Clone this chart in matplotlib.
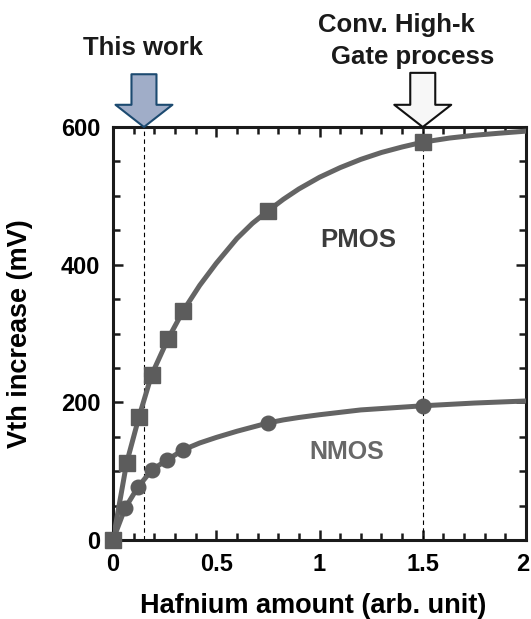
import matplotlib

matplotlib.use("Agg")
import matplotlib.pyplot as plt
import matplotlib.transforms as mtransforms
from matplotlib.ticker import MultipleLocator

plt.rcParams["font.family"] = ["Liberation Sans", "DejaVu Sans"]
plt.rcParams["font.weight"] = "bold"
plt.rcParams["axes.labelweight"] = "bold"

# measured points
pmos_x = [0.0, 0.066, 0.126, 0.187, 0.266, 0.34, 0.75, 1.5]
pmos_y = [0, 112, 179, 240, 292, 333, 478, 578]
nmos_x = [0.058, 0.121, 0.189, 0.26, 0.34, 0.75, 1.5]
nmos_y = [46, 77, 102, 116, 131, 170, 195]

# fitted curves
pmos_fit_x = [0.0, 0.066, 0.126, 0.187, 0.266, 0.34, 0.42, 0.5, 0.6, 0.675, 0.75,
              0.825, 0.9, 1.0, 1.1, 1.2, 1.3, 1.4, 1.5, 1.63, 1.75, 1.87, 2.0]
pmos_fit_y = [0, 112, 179, 240, 292, 333, 370, 402, 438, 460, 478,
              495, 510, 527, 541, 553, 563, 571, 578, 584, 588, 591, 594]
nmos_fit_x = [0.0, 0.058, 0.121, 0.189, 0.26, 0.34, 0.42, 0.5, 0.6, 0.675, 0.75,
              0.825, 0.9, 1.0, 1.2, 1.5, 1.75, 2.0]
nmos_fit_y = [0, 46, 77, 102, 116, 131, 141, 149, 158, 164, 170,
              174.5, 178, 182, 189, 195, 199, 202]

this_work_x = 0.15
conventional_x = 1.5

fig = plt.figure(figsize=(5.31, 6.19), dpi=100)
ax = fig.add_axes([0.2128, 0.1276, 0.7778, 0.6672])

gray = "#646464"
marker_gray = "#5c5c5c"
ax.plot(pmos_fit_x, pmos_fit_y, color=gray, lw=3.6, solid_capstyle="round",
        solid_joinstyle="round", zorder=3)
ax.plot(nmos_fit_x, nmos_fit_y, color=gray, lw=3.6, solid_capstyle="round",
        solid_joinstyle="round", zorder=3)
ax.plot(nmos_x, nmos_y, "o", ms=10.5, color=marker_gray, zorder=4, clip_on=False)
ax.plot(pmos_x, pmos_y, "s", ms=11, color=marker_gray, zorder=5, clip_on=False)

for xv in (this_work_x, conventional_x):
    ax.axvline(xv, color="black", lw=0.8, ls=(0, (4, 3)), zorder=2)

ax.text(1.19, 436, "PMOS", fontsize=18.5, color="#3c3c3c", ha="center", va="center")
ax.text(1.13, 128, "NMOS", fontsize=18, color="#686868", ha="center", va="center")

ax.set_xlim(0, 2)
ax.set_ylim(0, 600)
ax.set_xticks([0, 0.5, 1, 1.5, 2])
ax.set_xticklabels(["0", "0.5", "1", "1.5", "2"])
ax.set_yticks([0, 200, 400, 600])
ax.xaxis.set_minor_locator(MultipleLocator(0.1))
ax.yaxis.set_minor_locator(MultipleLocator(50))
ax.tick_params(which="both", direction="in", top=True, right=True,
               width=1.8, color="#1a1a1a", labelsize=17)
ax.tick_params(which="major", length=7.5)
ax.tick_params(which="minor", length=5)
ax.tick_params(axis="x", pad=9)
ax.tick_params(axis="y", pad=9)
for spine in ax.spines.values():
    spine.set_linewidth(2.2)
    spine.set_color("#1a1a1a")

# keep the last x tick label inside the canvas
last = ax.get_xticklabels()[-1]
last.set_transform(last.get_transform()
                   + mtransforms.ScaledTranslation(-3 / 100, 0, fig.dpi_scale_trans))

ax.set_xlabel("Hafnium amount (arb. unit)", fontsize=19.5)
ax.set_ylabel("Vth increase (mV)", fontsize=19.5)
ax.xaxis.set_label_coords(0.484, -0.128)
ax.yaxis.set_label_coords(-0.194, 0.5)

arrow_style = "simple,head_length=16,head_width=41,tail_width=18"
ax.annotate("", xy=(this_work_x, 600), xytext=(0, 38), textcoords="offset points",
            annotation_clip=False,
            arrowprops=dict(arrowstyle=arrow_style, mutation_scale=1,
                            fc="#a0adc8", ec="#1c4a70", lw=1.5,
                            shrinkA=0, shrinkB=0))
ax.annotate("", xy=(conventional_x, 600), xytext=(0, 39), textcoords="offset points",
            annotation_clip=False,
            arrowprops=dict(arrowstyle=arrow_style, mutation_scale=1,
                            fc="#f7f7f7", ec="#111111", lw=1.5,
                            shrinkA=0, shrinkB=0))

fig.text(143 / 531, 1 - 48 / 619, "This work", fontsize=18.5, ha="center", va="center",
         color="#1a1a1a")
fig.text(396 / 531, 1 - 25 / 619, "Conv. High-k", fontsize=18.5, ha="center", va="center",
         color="#1a1a1a")
fig.text(413 / 531, 1 - 57 / 619, "Gate process", fontsize=18.5, ha="center", va="center",
         color="#1a1a1a")

fig.savefig("out.png", dpi=100)
